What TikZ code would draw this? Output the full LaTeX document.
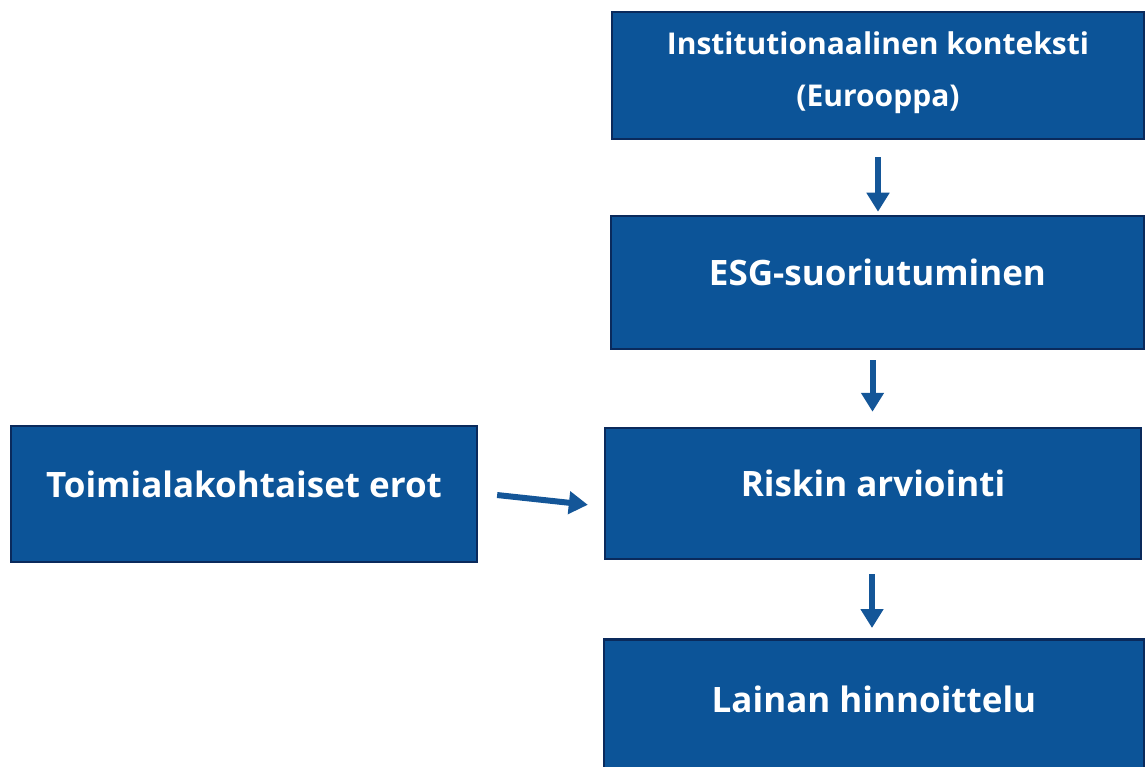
\documentclass[tikz,border=0pt]{standalone}
\usepackage{fontspec}
\setmainfont{Open Sans}
\usetikzlibrary{arrows.meta}
\definecolor{boxblue}{RGB}{12,84,152}
\definecolor{boxedge}{RGB}{10,42,92}
\definecolor{arrowblue}{RGB}{20,86,152}

\begin{document}
\begin{tikzpicture}[x=1pt,y=-1pt,
	stage/.style={draw=boxedge, line width=2.5pt, fill=boxblue, text=white,
		font=\fontsize{35}{42}\selectfont\bfseries, text depth=20pt,
		align=center, inner sep=0pt},
	flow/.style={draw=arrowblue, line width=6pt,
		-{Triangle[width=22pt,length=19pt]}}]
	\useasboundingbox (0,0) rectangle (1145,767);
	%boxes
	\node[stage, font=\fontsize{30}{52}\selectfont\bfseries, text depth=12pt,
		minimum width=532pt, minimum height=127pt] (inst) at (878,75.5)
		{Institutionaalinen konteksti\\(Eurooppa)};
	\node[stage, minimum width=533pt, minimum height=133pt] (esg) at (877.5,282.5)
		{ESG-suoriutuminen};
	\node[stage, minimum width=536pt, minimum height=131pt] (risk) at (873,493.5)
		{Riskin arviointi};
	\node[stage, minimum width=540pt, minimum height=140pt, anchor=north] (loan) at (874,638)
		{Lainan hinnoittelu};
	\node[stage, minimum width=466pt, minimum height=136pt] (sector) at (244,494)
		{Toimialakohtaiset erot};
	%arrows
	\draw[flow, shorten <=17pt, shorten >=3pt] (inst.south) -- (inst.south |- esg.north);
	\draw[flow, shorten <=10pt, shorten >=15pt] ([xshift=-5pt]esg.south) -- ([xshift=-5pt]esg.south |- risk.north);
	\draw[flow, shorten <=14pt, shorten >=10pt] ([xshift=-1pt]risk.south) -- ([xshift=-1pt]risk.south |- loan.north);
	\draw[flow, shorten <=19pt, shorten >=16pt] ([yshift=1pt]sector.east) -- ([yshift=-13pt]risk.west);
\end{tikzpicture}
\end{document}
